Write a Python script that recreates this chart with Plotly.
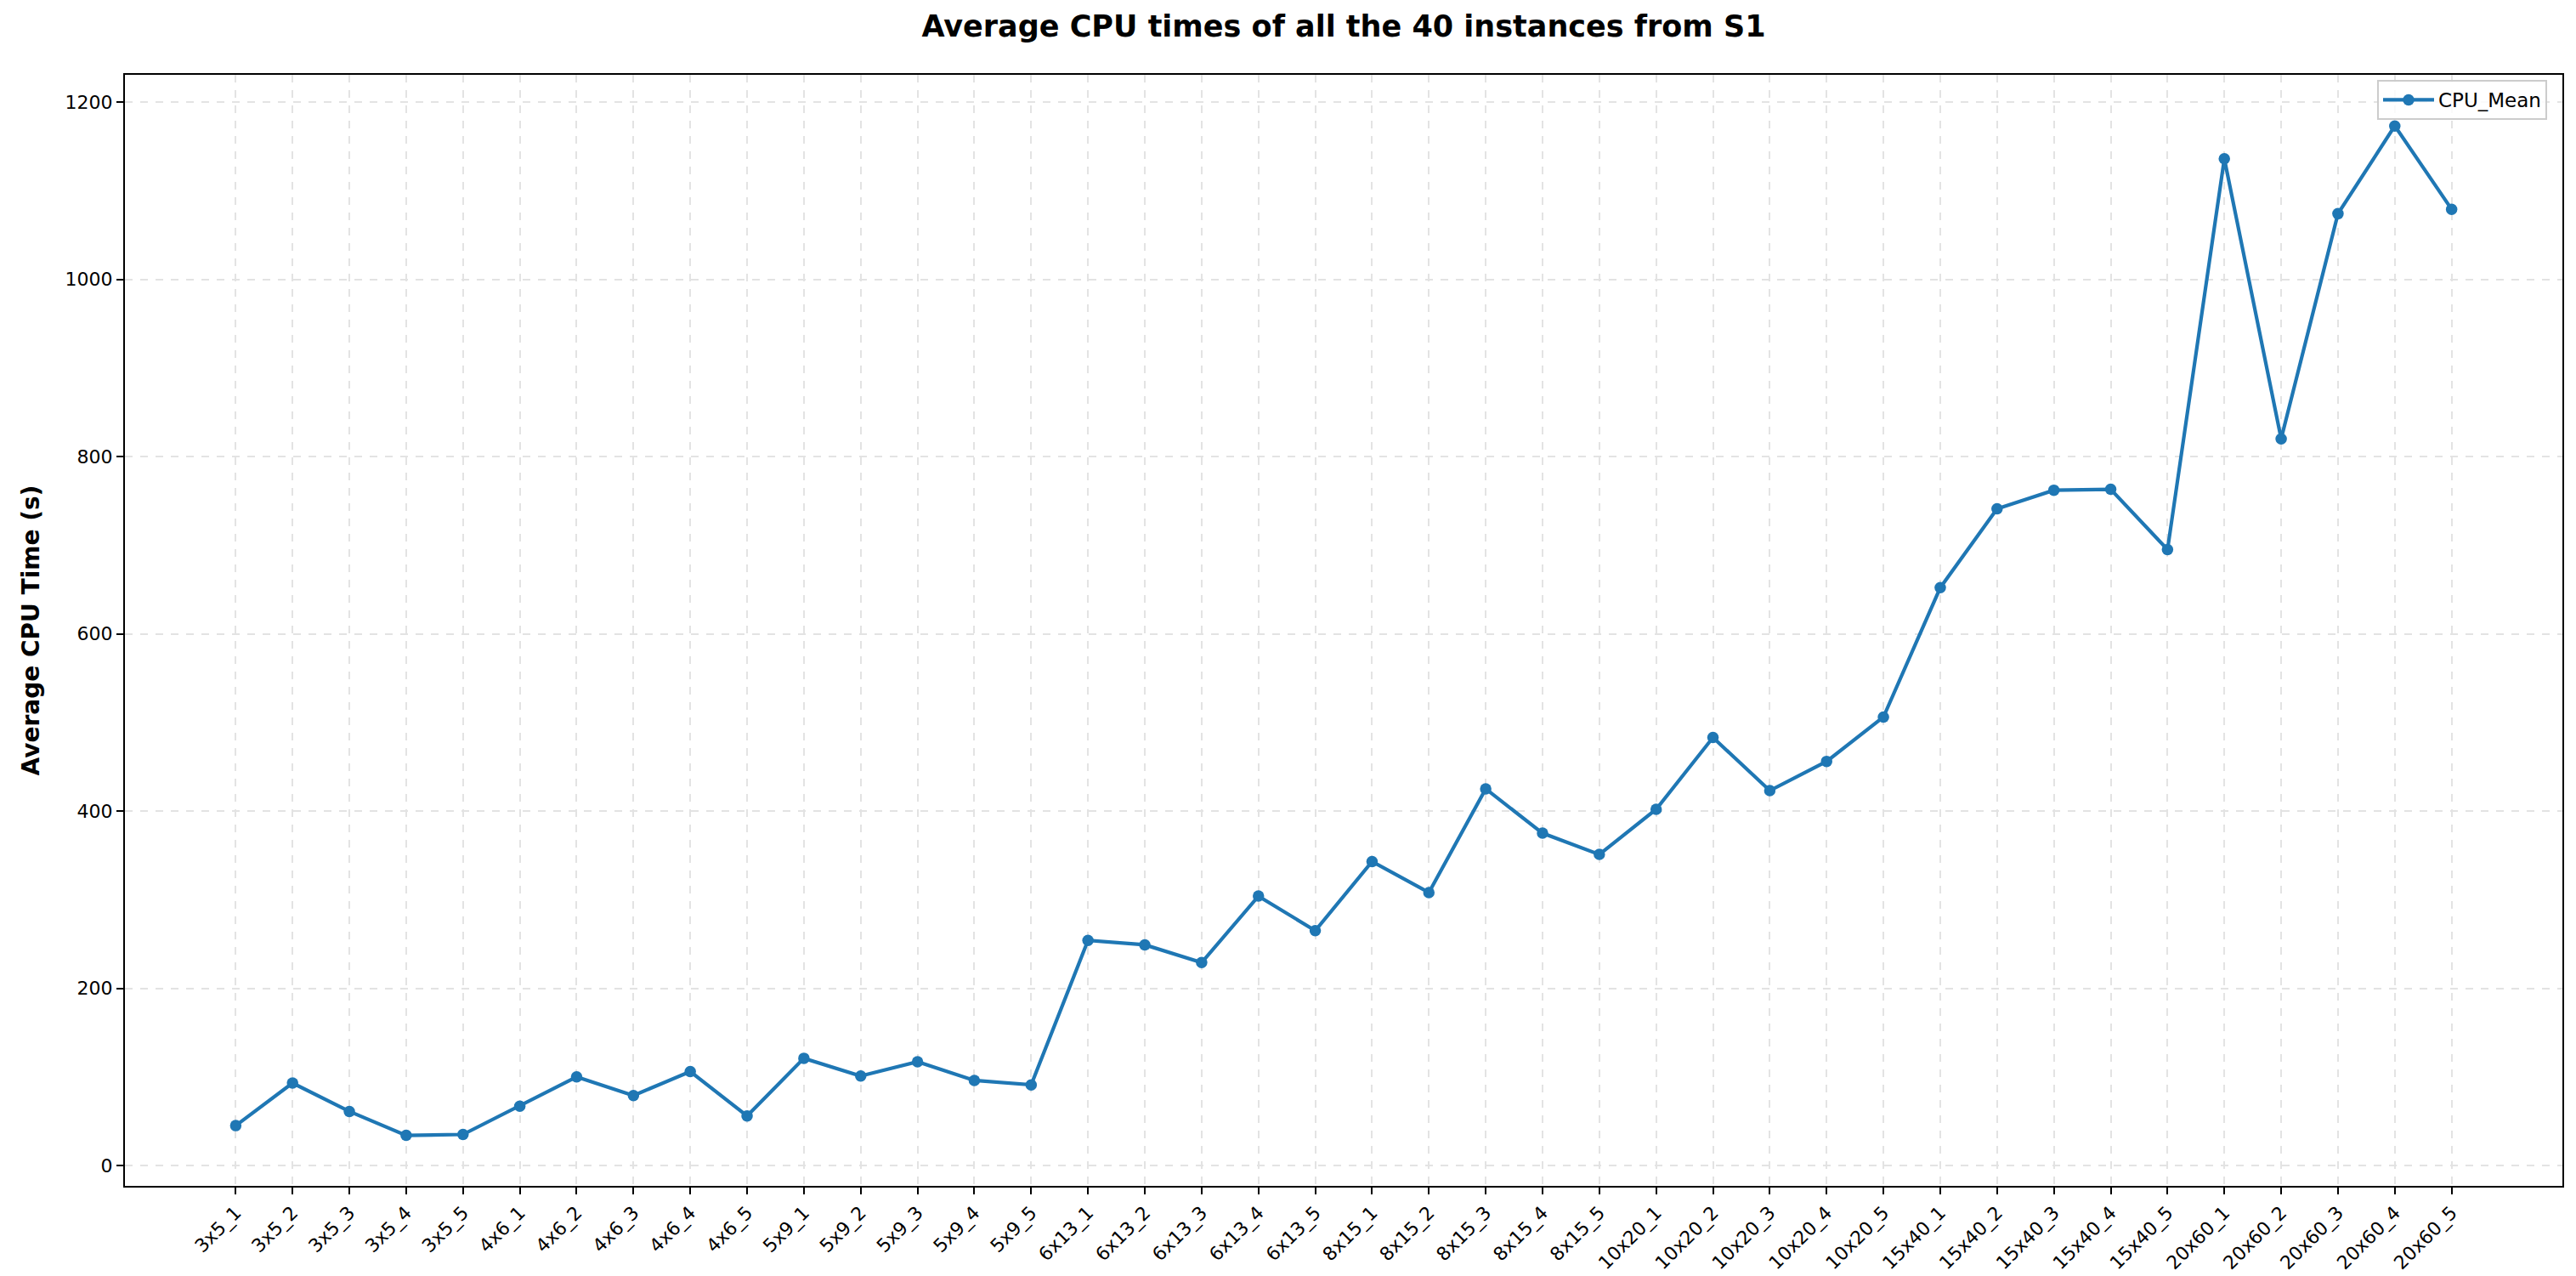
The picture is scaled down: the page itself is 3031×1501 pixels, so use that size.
import plotly.graph_objects as go

instances = [
    "3x5_1", "3x5_2", "3x5_3", "3x5_4", "3x5_5",
    "4x6_1", "4x6_2", "4x6_3", "4x6_4", "4x6_5",
    "5x9_1", "5x9_2", "5x9_3", "5x9_4", "5x9_5",
    "6x13_1", "6x13_2", "6x13_3", "6x13_4", "6x13_5",
    "8x15_1", "8x15_2", "8x15_3", "8x15_4", "8x15_5",
    "10x20_1", "10x20_2", "10x20_3", "10x20_4", "10x20_5",
    "15x40_1", "15x40_2", "15x40_3", "15x40_4", "15x40_5",
    "20x60_1", "20x60_2", "20x60_3", "20x60_4", "20x60_5",
]
cpu_mean = [
    45, 93, 61, 34, 35,
    67, 100, 79, 106, 56,
    121, 101, 117, 96, 91,
    254, 249, 229, 304, 265,
    343, 308, 425, 375, 351,
    402, 483, 423, 456, 506,
    652, 741, 762, 763, 695,
    1136, 820, 1074, 1173, 1079,
]

FONT = "DejaVu Sans"
W, H = 3031, 1501
ML, MR, MT, MB = 139, 24, 80, 114
pw = W - ML - MR
ph = H - MT - MB

fig = go.Figure()
fig.add_trace(go.Scatter(
    x=instances, y=cpu_mean, mode="lines+markers", name="CPU_Mean",
    line=dict(color="#1f77b4", width=4.2),
    marker=dict(color="#1f77b4", size=13.5),
))

n = len(instances)
pad = 0.05 * (n - 1)
fig.update_layout(
    width=W, height=H,
    margin=dict(l=ML, r=MR, t=MT, b=MB, autoexpand=False),
    paper_bgcolor="white", plot_bgcolor="white",
    font=dict(family=FONT, size=22, color="black"),
    title=dict(
        text="<b>Average CPU times of all the 40 instances from S1</b>",
        x=(ML + pw / 2) / W, xanchor="center",
        y=1 - 23 / H, yanchor="middle", yref="container",
        font=dict(family=FONT, size=35, color="black"),
    ),
    showlegend=True,
    legend=dict(
        x=1 - 18 / pw, xanchor="right", y=1 - 6 / ph, yanchor="top",
        bgcolor="rgba(255,255,255,0.8)", bordercolor="#cccccc", borderwidth=2,
        font=dict(family=FONT, size=23, color="black"),
        itemwidth=60,
    ),
)
fig.update_xaxes(
    type="category",
    range=[-pad, n - 1 + pad],
    tickangle=-45,
    automargin=False,
    tickfont=dict(family=FONT, size=22, color="black"),
    showline=True, linecolor="black", linewidth=2, mirror=True,
    ticks="outside", ticklen=8, tickwidth=1.5, tickcolor="black",
    showgrid=True, gridcolor="#e3e3e3", gridwidth=1.5, griddash="dash",
    zeroline=False,
)
fig.update_yaxes(
    range=[-23, 1230.7],
    tickvals=[0, 200, 400, 600, 800, 1000, 1200],
    automargin=False,
    tickfont=dict(family=FONT, size=22, color="black"),
    title=dict(text="<b>Average CPU Time (s)</b>", standoff=22,
               font=dict(family=FONT, size=28, color="black")),
    showline=True, linecolor="black", linewidth=2, mirror=True,
    ticks="outside", ticklen=8, tickwidth=1.5, tickcolor="black",
    showgrid=True, gridcolor="#e3e3e3", gridwidth=1.5, griddash="dash",
    zeroline=False,
)

fig.write_html("out.html")
